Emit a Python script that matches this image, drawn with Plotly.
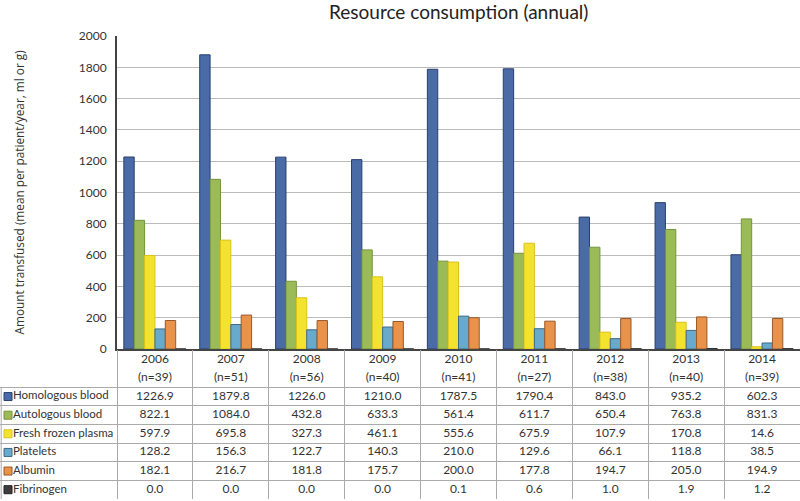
import plotly.graph_objects as go

years = ['2006', '2007', '2008', '2009', '2010', '2011', '2012', '2013', '2014']
n_patients = [39, 51, 56, 40, 41, 27, 38, 40, 39]

series_names = ['Homologous blood', 'Autologous blood', 'Fresh frozen plasma',
                'Platelets', 'Albumin', 'Fibrinogen']
homologous = [1226.9, 1879.8, 1226.0, 1210.0, 1787.5, 1790.4, 843.0, 935.2, 602.3]
autologous = [822.1, 1084.0, 432.8, 633.3, 561.4, 611.7, 650.4, 763.8, 831.3]
ffp = [597.9, 695.8, 327.3, 461.1, 555.6, 675.9, 107.9, 170.8, 14.6]
platelets = [128.2, 156.3, 122.7, 140.3, 210.0, 129.6, 66.1, 118.8, 38.5]
albumin = [182.1, 216.7, 181.8, 175.7, 200.0, 177.8, 194.7, 205.0, 194.9]
fibrinogen = [0.0, 0.0, 0.0, 0.0, 0.1, 0.6, 1.0, 1.9, 1.2]

series_values = [homologous, autologous, ffp, platelets, albumin, fibrinogen]
fill_colors = ['#4A6BA6', '#9BBB59', '#F4E32E', '#69A9CB', '#E8924A', '#3C3C3C']
line_colors = ['#2A3F6C', '#73953A', '#D9C21E', '#3D6A86', '#985A2C', '#222222']

W, H = 800, 501
plot_left, plot_top, plot_bottom = 117, 36, 349
table_top, table_bottom = 350, 499
font = 'Lato'
txt = '#333333'
grid_c = '#AAAAAA'
fs = 11.5
fs_val = 12

fig = go.Figure()
for name, vals, fc, lc in zip(series_names, series_values, fill_colors, line_colors):
    fig.add_trace(go.Bar(x=years, y=vals, name=name,
                         marker=dict(color=fc, line=dict(color=lc, width=1)),
                         showlegend=False))

# ---- data table under the chart, on overlay axes x3/y3 ----
ncat = len(years)
unit_px = (W - plot_left) / ncat            # pixels per category
x3_left = -0.5 - plot_left / unit_px        # so categories line up with the bars
n_rows = 2 + len(series_names)              # 2 header lines + data rows
cat_idx = list(range(ncat))

# header: years and (n=..)
fig.add_trace(go.Scatter(x=cat_idx, y=[0.55] * ncat, text=years, mode='text',
                         xaxis='x3', yaxis='y3', showlegend=False, hoverinfo='skip',
                         textfont=dict(family=font, size=fs_val, color=txt)))
fig.add_trace(go.Scatter(x=cat_idx, y=[1.5] * ncat, text=[f'(n={n})' for n in n_patients],
                         mode='text', xaxis='x3', yaxis='y3', showlegend=False,
                         hoverinfo='skip', textfont=dict(family=font, size=fs_val, color=txt)))
# values
for r, vals in enumerate(series_values):
    fig.add_trace(go.Scatter(x=cat_idx, y=[2.5 + r] * ncat, text=[f'{v:.1f}' for v in vals],
                             mode='text', xaxis='x3', yaxis='y3', showlegend=False,
                             hoverinfo='skip', textfont=dict(family=font, size=fs_val, color=txt)))
# row labels with legend squares
rows_y = [2.5 + r for r in range(len(series_names))]
fig.add_trace(go.Scatter(x=[x3_left + 13 / unit_px] * len(series_names), y=rows_y,
                         text=series_names, mode='text', textposition='middle right',
                         xaxis='x3', yaxis='y3', showlegend=False, hoverinfo='skip',
                         textfont=dict(family=font, size=fs, color=txt)))
fig.add_trace(go.Scatter(x=[x3_left + 8 / unit_px] * len(series_names), y=rows_y,
                         mode='markers', xaxis='x3', yaxis='y3', showlegend=False,
                         hoverinfo='skip',
                         marker=dict(symbol='square', size=8, color=fill_colors,
                                     line=dict(color=line_colors, width=1))))

fig.update_layout(
    width=W, height=H,
    margin=dict(l=0, r=0, t=0, b=0, autoexpand=False),
    paper_bgcolor='white', plot_bgcolor='white',
    barmode='group', bargap=0.18, bargroupgap=0,
    font=dict(family=font, size=11, color=txt),
    xaxis=dict(domain=[plot_left / W, 1], showticklabels=False, ticks='',
               showline=True, linecolor='#444444', linewidth=2, fixedrange=True),
    yaxis=dict(domain=[1 - plot_bottom / H, 1 - plot_top / H], range=[0, 2000],
               dtick=200, showgrid=True, gridcolor='#BBBBBB', gridwidth=1,
               showline=True, linecolor='#444444', linewidth=2, ticks='',
               ticklabelstandoff=6,
               tickfont=dict(family=font, size=fs_val, color=txt),
               zeroline=False, fixedrange=True),
    xaxis3=dict(domain=[0, 1], range=[x3_left, ncat - 0.5], anchor='y3',
                showticklabels=False, ticks='', zeroline=False, showline=False,
                showgrid=True, gridcolor=grid_c, gridwidth=1,
                tickmode='array', tickvals=[i - 0.5 for i in range(ncat + 1)],
                fixedrange=True),
    yaxis3=dict(domain=[1 - table_bottom / H, 1 - table_top / H], range=[n_rows, 0],
                anchor='x3', showticklabels=False, ticks='', zeroline=False,
                showline=False, showgrid=True, gridcolor=grid_c, gridwidth=1,
                tickmode='array', tickvals=list(range(2, n_rows + 1)), fixedrange=True),
    shapes=[dict(type='line', xref='paper', yref='y3', x0=0.0015, x1=0.0015, y0=2, y1=n_rows,
                 line=dict(color=grid_c, width=1))],
    annotations=[
        dict(text='Resource consumption (annual)', x=458 / W, y=1 - 11 / H,
             xref='paper', yref='paper', showarrow=False, yanchor='middle',
             font=dict(family=font, size=19, color='#222222')),
        dict(text='Amount transfused (mean per patient/year, ml or g)', x=18 / W,
             y=1 - (plot_top + plot_bottom) / 2 / H, xref='paper', yref='paper',
             showarrow=False, textangle=-90, xanchor='center', yanchor='middle',
             font=dict(family='Open Sans', size=11.8, color=txt)),
    ],
)

fig.write_html('out.html', post_script="document.body.style.margin='0';",
               config={'displayModeBar': False})
